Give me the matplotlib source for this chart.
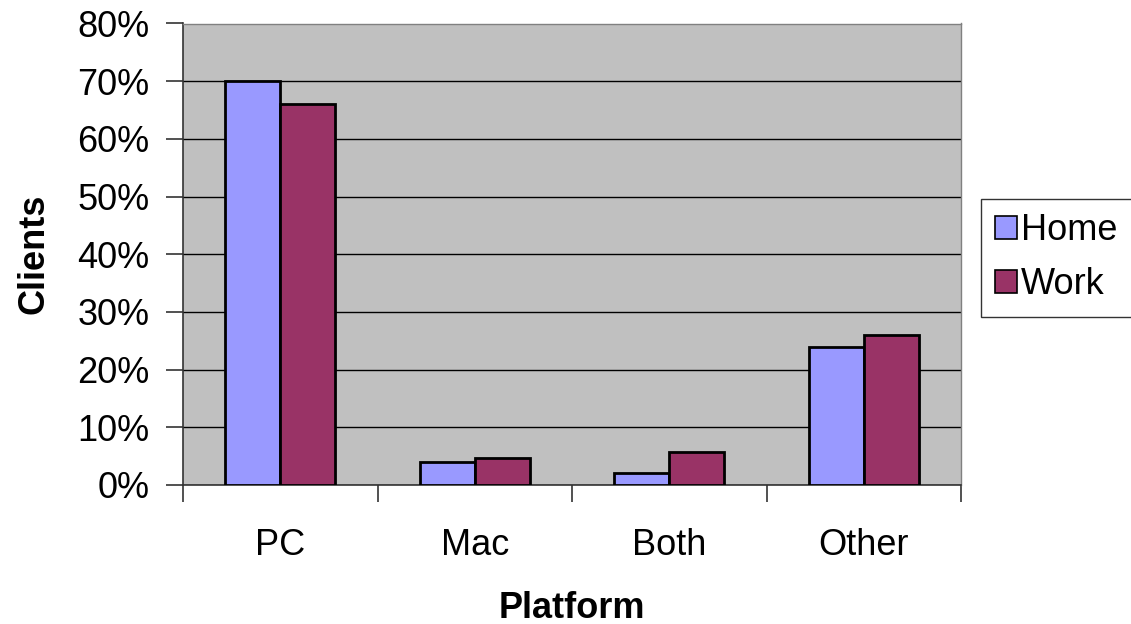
import matplotlib
matplotlib.use("Agg")
import matplotlib.pyplot as plt
import numpy as np
from matplotlib.ticker import FuncFormatter, MultipleLocator

categories = ["PC", "Mac", "Both", "Other"]
home = [70, 4, 2, 24]
work = [66, 4.7, 5.7, 26]
series_names = ["Home", "Work"]

plt.rcParams['font.family'] = ['Liberation Sans', 'DejaVu Sans']

fig = plt.figure(figsize=(11.31, 6.24), dpi=100)
ax = fig.add_axes([183/1131, 1 - 485/624, (961-183)/1131, (485-23.5)/624])
ax.set_facecolor('#C0C0C0')

x = np.arange(len(categories))
w = 0.283
ax.bar(x - w/2, home, w, color='#9999FF', edgecolor='black', linewidth=2, label=series_names[0], zorder=3)
ax.bar(x + w/2, work, w, color='#993366', edgecolor='black', linewidth=2, label=series_names[1], zorder=3)

ax.set_xlim(-0.5, len(categories) - 0.5)
ax.set_ylim(0, 80)
ax.yaxis.set_major_locator(MultipleLocator(10))
ax.yaxis.set_major_formatter(FuncFormatter(lambda v, p: f"{int(v)}%"))
ax.grid(axis='y', color='black', linewidth=1, zorder=1)
ax.set_axisbelow(True)

FS = 26
ax.set_xticks(x)
ax.set_xticklabels(categories)
ax.tick_params(axis='x', length=0, pad=31, labelsize=FS)
ax.set_xticks(np.arange(len(categories) + 1) - 0.5, minor=True)
ax.tick_params(axis='x', which='minor', length=12, width=1.2, color='#333333')
ax.tick_params(axis='y', length=12, width=1.2, color='#333333', labelsize=FS, pad=12)

for side in ['top', 'right']:
    ax.spines[side].set_color('#808080')
    ax.spines[side].set_linewidth(1)
ax.spines['left'].set_color('#333333')
ax.spines['left'].set_linewidth(1.2)
ax.spines['bottom'].set_color('#333333')
ax.spines['bottom'].set_linewidth(1.2)

ax.set_ylabel("Clients", fontsize=FS, fontweight='bold')
ax.yaxis.set_label_coords(-0.169, 0.5)
ax.set_xlabel("Platform", fontsize=FS, fontweight='bold')
ax.xaxis.set_label_coords(0.5, -0.229)

leg = fig.legend(loc='upper left', bbox_to_anchor=(981/1131, 1 - 199/624), fontsize=FS,
                 frameon=True, fancybox=False, edgecolor='#333333', framealpha=1,
                 handlelength=0.61, handleheight=0.61, handletextpad=0.1,
                 borderpad=0.4, labelspacing=0.52, borderaxespad=0)
leg.get_frame().set_linewidth(1)
for h in leg.legend_handles:
    h.set_linewidth(1.2)

fig.savefig("out.png", dpi=100, facecolor='white')
